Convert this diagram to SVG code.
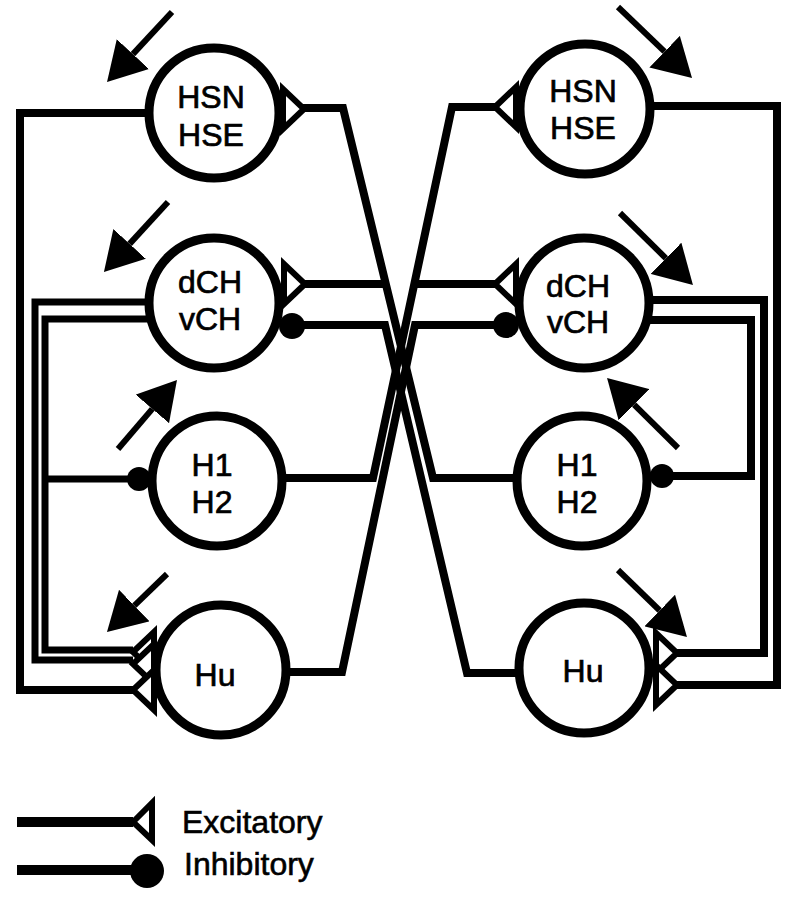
<svg xmlns="http://www.w3.org/2000/svg" xmlns:xlink="http://www.w3.org/1999/xlink" width="790" height="899" viewBox="0 0 790 899">
<style>
.bg{fill:#fff}
.w{fill:none;stroke:#000;stroke-width:8;stroke-linejoin:miter;stroke-linecap:butt}
.w7{fill:none;stroke:#000;stroke-width:7;stroke-linejoin:miter;stroke-linecap:butt}
.cell{fill:#fff;stroke:#000;stroke-width:9}
.lbl{font-family:"Liberation Sans",Arial,Helvetica,sans-serif;font-size:32px;fill:#000;stroke:#000;stroke-width:0.7;text-anchor:middle}
.leg{font-family:"Liberation Sans",Arial,Helvetica,sans-serif;font-size:32px;fill:#000;stroke:#000;stroke-width:0.6}
.exc{fill:#fff;stroke:#000;stroke-width:6;stroke-linejoin:miter}
.inh{fill:#000}
.mv{fill:none;stroke:#000;stroke-width:6;marker-end:url(#ah)}
</style>
<defs>
<marker id="ah" markerUnits="userSpaceOnUse" markerWidth="40" markerHeight="44" refX="0" refY="22" orient="auto" viewBox="0 0 40 44"><path d="M0,0 L38,22 L0,44 Z" fill="#000"/></marker>
<path id="exc" class="exc" d="M0,0 L21,-20 L21,20 Z"/>
</defs>
<rect class="bg" x="0" y="0" width="790" height="899"/>

<g id="connectors">
<path class="w" d="M160,113 H20 V690 H133"/>
<path class="w7" d="M160,302 H35 V660 H133"/>
<path class="w7" d="M160,319 H45 V650 H133"/>
<path class="w7" d="M45,479 H139"/>
<path class="w" d="M640,106 H777 V685 H677"/>
<path class="w" d="M640,300 H764 V653 H677"/>
<path class="w" d="M640,320 H751 V476 H662"/>
<path class="w" d="M540,478 H433 L343,108 H303"/>
<path class="w" d="M387,284 H305"/>
<path class="w" d="M540,673 H467 L385,325 H292"/>
<path class="w" d="M260,478 H373 L452,107 H495"/>
<path class="w" d="M413,284 H495"/>
<path class="w" d="M250,672 H342 L415,325 H506"/>
</g>

<g id="n-hsn-l"><circle class="cell" cx="214" cy="113" r="65"/><text class="lbl" x="211" y="108">HSN</text><text class="lbl" x="211" y="146">HSE</text></g>
<g id="n-dch-l"><circle class="cell" cx="214" cy="303" r="65"/><text class="lbl" x="210" y="293">dCH</text><text class="lbl" x="210" y="330">vCH</text></g>
<g id="n-h1-l"><circle class="cell" cx="217" cy="481" r="65"/><text class="lbl" x="212" y="476">H1</text><text class="lbl" x="212" y="513">H2</text></g>
<g id="n-hu-l"><circle class="cell" cx="221" cy="670" r="65"/><text class="lbl" x="215" y="686">Hu</text></g>
<g id="n-hsn-r"><circle class="cell" cx="585" cy="109" r="65"/><text class="lbl" x="583" y="102">HSN</text><text class="lbl" x="583" y="139">HSE</text></g>
<g id="n-dch-r"><circle class="cell" cx="584" cy="303" r="65"/><text class="lbl" x="578" y="297">dCH</text><text class="lbl" x="578" y="333">vCH</text></g>
<g id="n-h1-r"><circle class="cell" cx="582" cy="481" r="65"/><text class="lbl" x="577" y="476">H1</text><text class="lbl" x="577" y="513">H2</text></g>
<g id="n-hu-r"><circle class="cell" cx="584" cy="668" r="65"/><text class="lbl" x="583" y="682">Hu</text></g>

<g id="synapses">
<use xlink:href="#exc" transform="translate(304,109) rotate(180)"/>
<use xlink:href="#exc" transform="translate(305,284) rotate(180)"/>
<use xlink:href="#exc" transform="translate(495,107)"/>
<use xlink:href="#exc" transform="translate(495,284)"/>
<use xlink:href="#exc" transform="translate(133,652)"/>
<use xlink:href="#exc" transform="translate(133,664)"/>
<use xlink:href="#exc" transform="translate(133,690)"/>
<use xlink:href="#exc" transform="translate(677,653) rotate(180)"/>
<use xlink:href="#exc" transform="translate(677,685) rotate(180)"/>
<circle class="inh" cx="292" cy="326" r="13"/>
<circle class="inh" cx="506" cy="325" r="13"/>
<circle class="inh" cx="139" cy="479" r="12"/>
<circle class="inh" cx="662" cy="476" r="12"/>
</g>

<g id="motion">
<path class="mv" d="M172,12 L132.9,54.1"/>
<path class="mv" d="M168,202 L129.6,243.9"/>
<path class="mv" d="M118,449 L152.3,408.9"/>
<path class="mv" d="M167,574 L134.3,605.6"/>
<path class="mv" d="M618,7 L664.6,51.7"/>
<path class="mv" d="M620,213 L665.9,258.3"/>
<path class="mv" d="M678,448 L634.1,404.7"/>
<path class="mv" d="M618,570 L659.7,610.5"/>
</g>

<g id="legend">
<path class="w" style="stroke-width:10" d="M17,822 H133"/>
<path class="exc" d="M133,822 L152,803 L152,840 Z"/>
<text class="leg" x="182" y="833">Excitatory</text>
<path class="w" style="stroke-width:10" d="M17,870 H140"/>
<circle class="inh" cx="147" cy="871" r="17"/>
<text class="leg" x="184" y="875">Inhibitory</text>
</g>
</svg>
